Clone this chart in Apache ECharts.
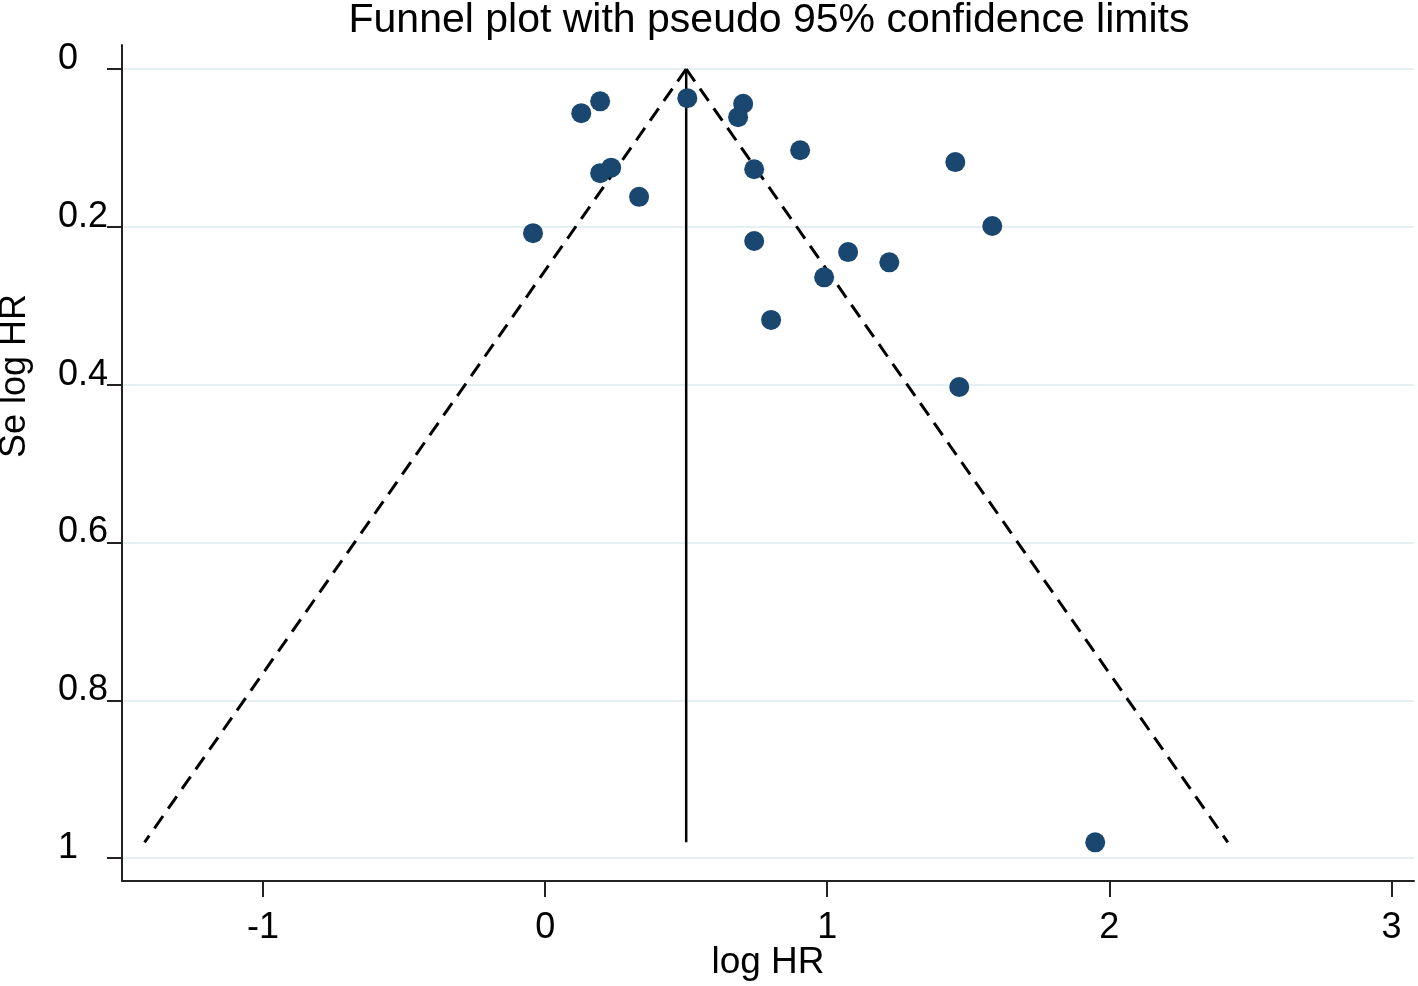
<!DOCTYPE html>
<html>
<head>
<meta charset="utf-8">
<script src="https://cdn.jsdelivr.net/npm/echarts@6/dist/echarts.min.js"></script>
<style>
html,body{margin:0;padding:0;background:#fff;}
#chart{width:1418px;height:986px;}
</style>
</head>
<body>
<div id="chart"></div>
<script>
// Study points: [log HR, SE of log HR]
const logHR = [0.128, 0.195, 0.504, 0.702, 0.684, 0.904, 1.454, 0.195, 0.234, 0.741, 0.333, -0.043, 1.585, 0.741, 1.074, 1.220, 0.989, 0.801, 1.468, 1.950];
const seLogHR = [0.056, 0.041, 0.037, 0.044, 0.061, 0.103, 0.118, 0.132, 0.125, 0.127, 0.162, 0.208, 0.199, 0.218, 0.232, 0.245, 0.264, 0.318, 0.403, 0.980];
// Funnel lines
const pooledLine = [[0.5, 0], [0.5, 0.98]];
const lowerLimit = [[0.5, 0], [-1.42, 0.98]];
const upperLimit = [[0.5, 0], [2.42, 0.98]];
// Tick labels
const xTicks = [-1, 0, 1, 2, 3];
const xTickLabels = ['-1', '0', '1', '2', '3'];
const yTicks = [0, 0.2, 0.4, 0.6, 0.8, 1];
const yTickLabels = ['0', '0.2', '0.4', '0.6', '0.8', '1'];

const points = logHR.map((x, i) => [x, seLogHR[i]]);
const font = 'Liberation Sans, Arial, Helvetica, sans-serif';

const chart = echarts.init(document.getElementById('chart'), null, {renderer: 'canvas'});
chart.setOption({
  backgroundColor: '#ffffff',
  animation: false,
  title: {
    text: 'Funnel plot with pseudo 95% confidence limits',
    left: 764,
    textAlign: 'center',
    top: -5,
    textStyle: {fontFamily: font, fontSize: 41, fontWeight: 'normal', color: '#000'}
  },
  grid: {left: 122, right: 4, top: 45, bottom: 105, containLabel: false, outerBoundsMode: 'none'},
  xAxis: {
    type: 'value',
    min: -1.5,
    max: 3.08,
    name: 'log HR',
    nameLocation: 'middle',
    nameGap: 63,
    nameMoveOverlap: false,
    nameTextStyle: {fontFamily: font, fontSize: 37, color: '#000'},
    axisLine: {show: true, onZero: false, lineStyle: {color: '#222', width: 2}},
    axisTick: {show: true, inside: false, length: 16, customValues: xTicks, lineStyle: {color: '#222', width: 2}},
    axisLabel: {
      customValues: xTicks,
      margin: 29,
      fontFamily: font, fontSize: 36, color: '#000',
      formatter: v => xTickLabels[xTicks.indexOf(Math.round(v))] ?? ''
    },
    splitLine: {show: false}
  },
  yAxis: {
    type: 'value',
    inverse: true,
    min: -0.0304,
    max: 1.029,
    name: 'Se log HR',
    nameLocation: 'middle',
    nameGap: 89,
    nameRotate: 90,
    nameMoveOverlap: false,
    nameTextStyle: {fontFamily: font, fontSize: 36, color: '#000', padding: [0, 0, 0, 174]},
    axisLine: {show: true, onZero: false, lineStyle: {color: '#222', width: 2}},
    axisTick: {show: true, inside: false, length: 15, customValues: yTicks, lineStyle: {color: '#222', width: 2}},
    axisLabel: {
      customValues: yTicks,
      margin: 64,
      align: 'left',
      verticalAlign: 'bottom',
      lineHeight: 20,
      fontFamily: font, fontSize: 36, color: '#000',
      formatter: v => {
        const i = yTicks.findIndex(t => Math.abs(t - v) < 1e-6);
        return i >= 0 ? yTickLabels[i] : '';
      }
    },
    splitLine: {show: true, lineStyle: {color: '#e6eff1', width: 2}}
  },
  series: [
    {
      type: 'line',
      data: lowerLimit,
      symbol: 'none',
      lineStyle: {color: '#000', width: 3, type: [15, 9]},
      z: 3
    },
    {
      type: 'line',
      data: upperLimit,
      symbol: 'none',
      lineStyle: {color: '#000', width: 3, type: [15, 9]},
      z: 3
    },
    {
      type: 'line',
      data: pooledLine,
      symbol: 'none',
      lineStyle: {color: '#000', width: 2.5, type: 'solid'},
      z: 3
    },
    {
      type: 'scatter',
      data: points,
      symbol: 'circle',
      symbolSize: 20,
      itemStyle: {color: '#1a476f', opacity: 1},
      z: 4
    }
  ]
});
</script>
</body>
</html>
